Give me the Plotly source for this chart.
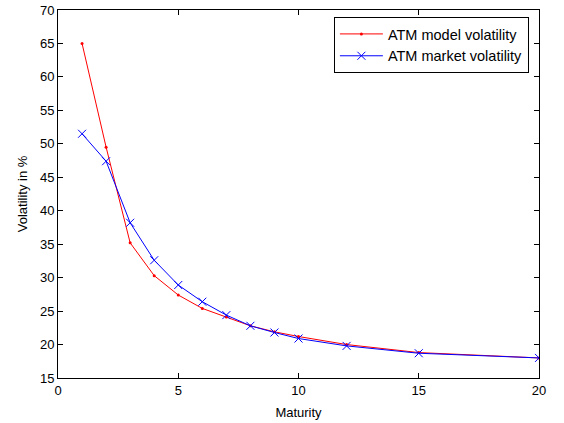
import plotly.graph_objects as go

maturity = [1, 2, 3, 4, 5, 6, 7, 8, 9, 10, 12, 15, 20]
model_vol = [65.0, 49.5, 35.2, 30.3, 27.4, 25.4, 24.1, 22.8, 21.9, 21.2, 20.0, 18.8, 18.0]
market_vol = [51.5, 47.4, 38.2, 32.6, 28.9, 26.4, 24.4, 22.8, 21.8, 20.9, 19.8, 18.7, 18.0]

fig = go.Figure()
fig.add_trace(go.Scatter(
    x=maturity, y=model_vol, mode="lines+markers", name="ATM model volatility",
    line=dict(color="#ff0000", width=1),
    marker=dict(symbol="circle", size=3, color="#ff0000"),
))
fig.add_trace(go.Scatter(
    x=maturity, y=market_vol, mode="lines+markers", name="ATM market volatility",
    line=dict(color="#0000ff", width=1),
    marker=dict(symbol="x-thin", size=8, color="#0000ff", line=dict(color="#0000ff", width=1)),
))

axis_common = dict(
    showline=True, linecolor="black", linewidth=1, mirror="ticks",
    ticks="inside", ticklen=5, tickcolor="black", tickwidth=1,
    showgrid=False, zeroline=False, automargin=False,
    tickfont=dict(family="Liberation Sans, Arial, sans-serif", size=13, color="black"),
    title_font=dict(family="Liberation Sans, Arial, sans-serif", size=13, color="black"),
)

fig.update_layout(
    width=564, height=423,
    margin=dict(l=58, r=25, t=10, b=45),
    paper_bgcolor="white", plot_bgcolor="white",
    font=dict(family="Liberation Sans, Arial, sans-serif", size=13, color="black"),
    xaxis=dict(range=[0, 20], tickvals=[0, 5, 10, 15, 20], title=dict(text="Maturity", standoff=11), **axis_common),
    yaxis=dict(range=[15, 70], tickvals=list(range(15, 75, 5)), title=dict(text="Volatility in %", standoff=9), **axis_common),
    legend=dict(
        x=0.979, y=0.981, xanchor="right", yanchor="top",
        bordercolor="black", borderwidth=1, bgcolor="white",
        font=dict(size=14.5), tracegroupgap=0, itemwidth=43,
    ),
    showlegend=True,
)

fig.write_html("out.html")
